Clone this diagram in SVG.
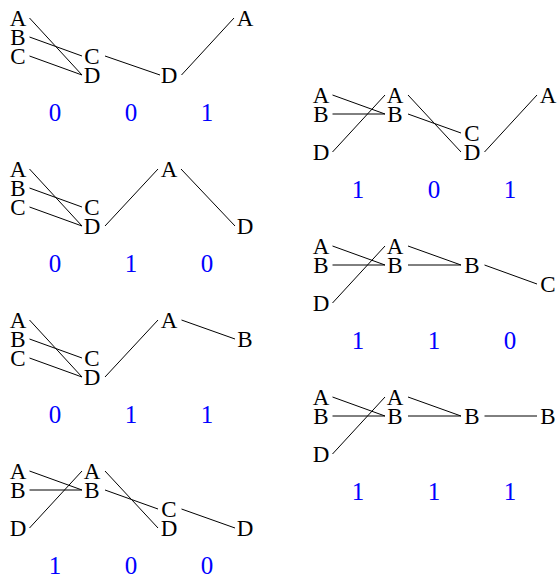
<svg xmlns="http://www.w3.org/2000/svg" width="558" height="576" viewBox="0 0 558 576">
<style>
.n text{font-family:"Liberation Serif","DejaVu Serif",serif;font-size:23px;fill:#000;text-anchor:middle}
.d text{font-family:"Liberation Serif","DejaVu Serif",serif;font-size:25px;fill:#0000ff;text-anchor:middle}
.c line{stroke:#000;stroke-width:1;fill:none}
</style>
<rect width="558" height="576" fill="#fff"/>
<!-- Panel 1 -->
<g id="panel1" transform="translate(0,0)">
<g class="c" id="p1-connectors">
<line x1="29.5" y1="18" x2="82" y2="75"/>
<line x1="29.5" y1="37" x2="82" y2="56"/>
<line x1="29.5" y1="56" x2="82" y2="75"/>
<line x1="105" y1="56" x2="160" y2="75"/>
<line x1="181.5" y1="75" x2="234" y2="18"/>
</g>
<g class="n" id="p1-A1"><text x="18" y="25.5">A</text></g>
<g class="n" id="p1-B1"><text x="18" y="44.5">B</text></g>
<g class="n" id="p1-C1"><text x="18" y="63.5">C</text></g>
<g class="n" id="p1-C2"><text x="92" y="63.5">C</text></g>
<g class="n" id="p1-D2"><text x="92" y="82.5">D</text></g>
<g class="n" id="p1-D3"><text x="169" y="82.5">D</text></g>
<g class="n" id="p1-A4"><text x="245" y="25.5">A</text></g>
<g class="d" id="p1-bits"><text x="55" y="121">0</text><text x="131" y="121">0</text><text x="207" y="121">1</text></g>
</g>
<!-- Panel 2 -->
<g id="panel2" transform="translate(0,151)">
<g class="c" id="p2-connectors">
<line x1="29.5" y1="18" x2="82" y2="75"/>
<line x1="29.5" y1="37" x2="82" y2="56"/>
<line x1="29.5" y1="56" x2="82" y2="75"/>
<line x1="105" y1="75" x2="158" y2="18"/>
<line x1="181" y1="18" x2="235" y2="75"/>
</g>
<g class="n" id="p2-A1"><text x="18" y="25.5">A</text></g>
<g class="n" id="p2-B1"><text x="18" y="44.5">B</text></g>
<g class="n" id="p2-C1"><text x="18" y="63.5">C</text></g>
<g class="n" id="p2-C2"><text x="92" y="63.5">C</text></g>
<g class="n" id="p2-D2"><text x="92" y="82.5">D</text></g>
<g class="n" id="p2-A3"><text x="169" y="25.5">A</text></g>
<g class="n" id="p2-D4"><text x="245" y="82.5">D</text></g>
<g class="d" id="p2-bits"><text x="55" y="121">0</text><text x="131" y="121">1</text><text x="207" y="121">0</text></g>
</g>
<!-- Panel 3 -->
<g id="panel3" transform="translate(0,302)">
<g class="c" id="p3-connectors">
<line x1="29.5" y1="18" x2="82" y2="75"/>
<line x1="29.5" y1="37" x2="82" y2="56"/>
<line x1="29.5" y1="56" x2="82" y2="75"/>
<line x1="105" y1="75" x2="158" y2="18"/>
<line x1="181.5" y1="18" x2="235" y2="37"/>
</g>
<g class="n" id="p3-A1"><text x="18" y="25.5">A</text></g>
<g class="n" id="p3-B1"><text x="18" y="44.5">B</text></g>
<g class="n" id="p3-C1"><text x="18" y="63.5">C</text></g>
<g class="n" id="p3-C2"><text x="92" y="63.5">C</text></g>
<g class="n" id="p3-D2"><text x="92" y="82.5">D</text></g>
<g class="n" id="p3-A3"><text x="169" y="25.5">A</text></g>
<g class="n" id="p3-B4"><text x="245" y="44.5">B</text></g>
<g class="d" id="p3-bits"><text x="55" y="121">0</text><text x="131" y="121">1</text><text x="207" y="121">1</text></g>
</g>
<!-- Panel 4 -->
<g id="panel4" transform="translate(0,453)">
<g class="c" id="p4-connectors">
<line x1="29.5" y1="18" x2="82" y2="37"/>
<line x1="29.5" y1="37" x2="82" y2="37"/>
<line x1="29.5" y1="75" x2="82" y2="18"/>
<line x1="105" y1="18" x2="158" y2="75"/>
<line x1="105" y1="37" x2="158" y2="56"/>
<line x1="181.5" y1="56" x2="235" y2="75"/>
</g>
<g class="n" id="p4-A1"><text x="18" y="25.5">A</text></g>
<g class="n" id="p4-B1"><text x="18" y="44.5">B</text></g>
<g class="n" id="p4-D1"><text x="18" y="82.5">D</text></g>
<g class="n" id="p4-A2"><text x="92" y="25.5">A</text></g>
<g class="n" id="p4-B2"><text x="92" y="44.5">B</text></g>
<g class="n" id="p4-C3"><text x="169" y="63.5">C</text></g>
<g class="n" id="p4-D3"><text x="169" y="82.5">D</text></g>
<g class="n" id="p4-D4"><text x="245" y="82.5">D</text></g>
<g class="d" id="p4-bits"><text x="55" y="121">1</text><text x="131" y="121">0</text><text x="207" y="121">0</text></g>
</g>
<!-- Panel 5 -->
<g id="panel5" transform="translate(303,77)">
<g class="c" id="p5-connectors">
<line x1="29.5" y1="18" x2="82" y2="37"/>
<line x1="29.5" y1="37" x2="82" y2="37"/>
<line x1="29.5" y1="75" x2="82" y2="18"/>
<line x1="105" y1="18" x2="158" y2="75"/>
<line x1="105" y1="37" x2="158" y2="56"/>
<line x1="181.5" y1="75" x2="234" y2="18"/>
</g>
<g class="n" id="p5-A1"><text x="18" y="25.5">A</text></g>
<g class="n" id="p5-B1"><text x="18" y="44.5">B</text></g>
<g class="n" id="p5-D1"><text x="18" y="82.5">D</text></g>
<g class="n" id="p5-A2"><text x="92" y="25.5">A</text></g>
<g class="n" id="p5-B2"><text x="92" y="44.5">B</text></g>
<g class="n" id="p5-C3"><text x="169" y="63.5">C</text></g>
<g class="n" id="p5-D3"><text x="169" y="82.5">D</text></g>
<g class="n" id="p5-A4"><text x="245" y="25.5">A</text></g>
<g class="d" id="p5-bits"><text x="55" y="121">1</text><text x="131" y="121">0</text><text x="207" y="121">1</text></g>
</g>
<!-- Panel 6 -->
<g id="panel6" transform="translate(303,228)">
<g class="c" id="p6-connectors">
<line x1="29.5" y1="18" x2="82" y2="37"/>
<line x1="29.5" y1="37" x2="82" y2="37"/>
<line x1="29.5" y1="75" x2="82" y2="18"/>
<line x1="105" y1="18" x2="158" y2="37"/>
<line x1="105" y1="37" x2="158" y2="37"/>
<line x1="181.5" y1="37" x2="234" y2="56"/>
</g>
<g class="n" id="p6-A1"><text x="18" y="25.5">A</text></g>
<g class="n" id="p6-B1"><text x="18" y="44.5">B</text></g>
<g class="n" id="p6-D1"><text x="18" y="82.5">D</text></g>
<g class="n" id="p6-A2"><text x="92" y="25.5">A</text></g>
<g class="n" id="p6-B2"><text x="92" y="44.5">B</text></g>
<g class="n" id="p6-B3"><text x="169" y="44.5">B</text></g>
<g class="n" id="p6-C4"><text x="245" y="63.5">C</text></g>
<g class="d" id="p6-bits"><text x="55" y="121">1</text><text x="131" y="121">1</text><text x="207" y="121">0</text></g>
</g>
<!-- Panel 7 -->
<g id="panel7" transform="translate(303,379)">
<g class="c" id="p7-connectors">
<line x1="29.5" y1="18" x2="82" y2="37"/>
<line x1="29.5" y1="37" x2="82" y2="37"/>
<line x1="29.5" y1="75" x2="82" y2="18"/>
<line x1="105" y1="18" x2="158" y2="37"/>
<line x1="105" y1="37" x2="158" y2="37"/>
<line x1="181.5" y1="37" x2="234" y2="37"/>
</g>
<g class="n" id="p7-A1"><text x="18" y="25.5">A</text></g>
<g class="n" id="p7-B1"><text x="18" y="44.5">B</text></g>
<g class="n" id="p7-D1"><text x="18" y="82.5">D</text></g>
<g class="n" id="p7-A2"><text x="92" y="25.5">A</text></g>
<g class="n" id="p7-B2"><text x="92" y="44.5">B</text></g>
<g class="n" id="p7-B3"><text x="169" y="44.5">B</text></g>
<g class="n" id="p7-B4"><text x="245" y="44.5">B</text></g>
<g class="d" id="p7-bits"><text x="55" y="121">1</text><text x="131" y="121">1</text><text x="207" y="121">1</text></g>
</g>
</svg>
